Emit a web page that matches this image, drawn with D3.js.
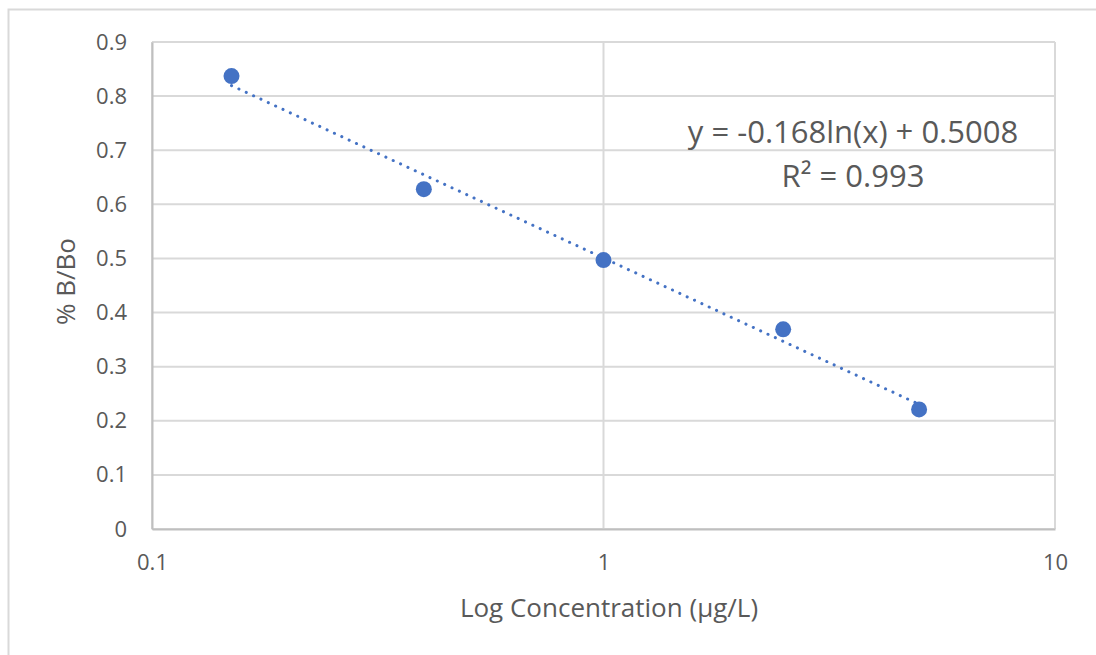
<!DOCTYPE html>
<html>
<head>
<meta charset="utf-8">
<script src="https://cdn.jsdelivr.net/npm/d3@7"></script>
<style>
  body { margin: 0; background: #fff; }
  text { font-family: "Open Sans", "Liberation Sans", sans-serif; fill: #595959; }
</style>
</head>
<body>
<svg id="chart"></svg>
<script>
// data
let concentrations = [0.15, 0.4, 1, 2.5, 5]
let ratios = [0.837, 0.628, 0.497, 0.369, 0.221]
let xTicks = [0.1, 1, 10]
let yTicks = [0, 0.1, 0.2, 0.3, 0.4, 0.5, 0.6, 0.7, 0.8, 0.9]
// trendline from the chart label: y = a ln(x) + b
let trendA = -0.168
let trendB = 0.5008
let trendLabel = ['y = -0.168ln(x) + 0.5008', 'R² = 0.993']

let W = 1096, H = 655
let margin = {left: 152, right: 41, top: 42, bottom: 126}

let svg = d3.select('#chart').attr('width', W).attr('height', H)

// outer frame (only left + top are visible in the crop)
svg.append('path')
  .attr('d', `M8.5,${H} V9.5 H${W}`)
  .attr('fill', 'none')
  .attr('stroke', '#d9d9d9')
  .attr('stroke-width', 2)

let x = d3.scaleLog().domain([0.1, 10]).range([margin.left, W - margin.right])
let y = d3.scaleLinear().domain([0, 0.9]).range([H - margin.bottom, margin.top])

// gridlines
let grid = svg.append('g').attr('class', 'grid')
grid.selectAll('.hgrid')
  .data(yTicks)
  .enter()
  .append('line')
  .attr('x1', x.range()[0]).attr('x2', x.range()[1])
  .attr('y1', d => y(d)).attr('y2', d => y(d))
  .attr('stroke', '#d9d9d9')
  .attr('stroke-width', 2)
grid.selectAll('.vgrid')
  .data(xTicks)
  .enter()
  .append('line')
  .attr('x1', d => x(d)).attr('x2', d => x(d))
  .attr('y1', y.range()[0]).attr('y2', y.range()[1])
  .attr('stroke', '#d9d9d9')
  .attr('stroke-width', 2)

// axes
let xAxis = svg.append('g')
  .attr('transform', `translate(0,${y(0)})`)
  .call(d3.axisBottom(x).tickValues(xTicks).tickSize(0).tickPadding(25).tickFormat(d3.format('')))
let yAxis = svg.append('g')
  .attr('transform', `translate(${x(0.1)},0)`)
  .call(d3.axisLeft(y).tickValues(yTicks).tickSize(0).tickPadding(25).tickFormat(d => d === 0 ? '0' : d3.format('.1f')(d)))
;[xAxis, yAxis].forEach(a => {
  a.select('.domain').attr('stroke', '#bfbfbf').attr('stroke-width', 2)
  a.selectAll('text').attr('font-size', 22).attr('fill', '#595959')
    .style('font-family', '"Open Sans", "Liberation Sans", sans-serif')
})

// trendline
let lnx = d3.range(Math.log(concentrations[0]), Math.log(concentrations[concentrations.length - 1]) + 1e-9, 0.02)
let trend = lnx.map(l => ({x: Math.exp(l), y: trendA * l + trendB}))
svg.append('path')
  .datum(trend)
  .attr('d', d3.line().x(d => x(d.x)).y(d => y(d.y)))
  .attr('fill', 'none')
  .attr('stroke', '#4472c4')
  .attr('stroke-width', 3)
  .attr('stroke-linecap', 'round')
  .attr('stroke-dasharray', '0.1 8')

// points
svg.append('g').selectAll('circle')
  .data(concentrations)
  .enter()
  .append('circle')
  .attr('cx', d => x(d))
  .attr('cy', (d, i) => y(ratios[i]))
  .attr('r', 8)
  .attr('fill', '#4472c4')

// trendline label
svg.append('g').selectAll('text')
  .data(trendLabel)
  .enter()
  .append('text')
  .attr('x', 853)
  .attr('y', (d, i) => 143 + i * 44)
  .attr('text-anchor', 'middle')
  .attr('font-size', 31)
  .text(d => d)

// axis titles
svg.append('text')
  .attr('x', 609).attr('y', 617)
  .attr('text-anchor', 'middle')
  .attr('font-size', 26)
  .text('Log Concentration (µg/L)')
svg.append('text')
  .attr('transform', `translate(75,${(y(0) + y(0.9)) / 2 - 4}) rotate(-90)`)
  .attr('text-anchor', 'middle')
  .attr('font-size', 26)
  .text('% B/Bo')
</script>
</body>
</html>
